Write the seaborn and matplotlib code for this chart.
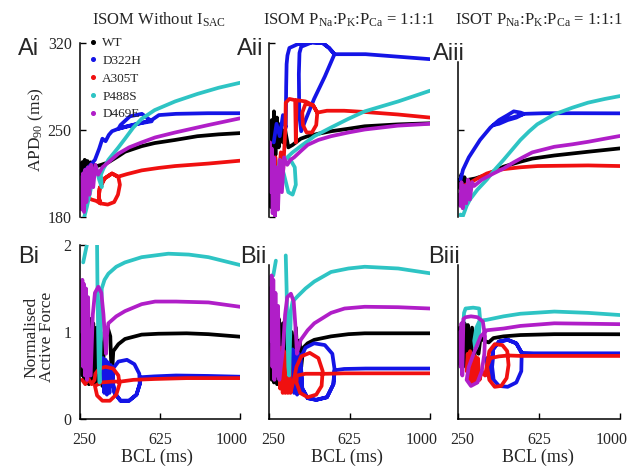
import numpy as np
import pandas as pd
import matplotlib
matplotlib.use("Agg")
import matplotlib.pyplot as plt
import matplotlib.transforms as mtransforms
from matplotlib.lines import Line2D
import seaborn as sns

sns.set_theme(style="white")
plt.rcParams["font.family"] = ["Liberation Serif", "DejaVu Serif"]
plt.rcParams["mathtext.fontset"] = "custom"
plt.rcParams["mathtext.rm"] = "Liberation Serif"
plt.rcParams["mathtext.it"] = "Liberation Serif:italic"

W, H = 634, 466

# ── DATA (BCL in ms, APD90 in ms / normalised force); None = gap ────────────
mutants = ["WT", "D322H", "A305T", "P488S", "D469E"]
colours = ["#000000", "#1414e6", "#f01010", "#2ec4c4", "#b01ec8"]
panel_titles = [r"ISOM Without I$_{\mathrm{SAC}}$",
                r"ISOM P$_{\mathrm{Na}}$:P$_{\mathrm{K}}$:P$_{\mathrm{Ca}}$ = 1:1:1",
                r"ISOT P$_{\mathrm{Na}}$:P$_{\mathrm{K}}$:P$_{\mathrm{Ca}}$ = 1:1:1"]
bcl_ticks = [250, 625, 1000]
apd_ticks = [180, 250, 320]
force_ticks = [0, 1, 2]

# APD90 - ISOM without I_SAC
ai_wt = [(255, 214), (260, 224), (266, 210), (272, 226), (278, 212), (285, 225), (292, 214),
         (300, 224), (308, 216), (318, 222), (330, 221), (350, 222), (383, 224), (430, 229),
         (461, 232.5), (539, 237), (600, 239.5), (696, 242), (800, 245), (900, 246.5), (1000, 247.5)]
ai_d322h = [(262, 212), (275, 218), (290, 220), (320, 226), (340, 235), (355, 243), (370, 241),
            (385, 246), (400, 249), (430, 251), (470, 253), (520, 255), (586, 257), (540, 263),
            (484, 261), (440, 254), (430, 251), (500, 254), (586, 258), (620, 262), (700, 263),
            (850, 263.5), (1000, 263.5)]
ai_a305t = [(258, 199), (280, 196), (305, 194), (325, 193), (345, 191), (380, 190), (410, 192),
            (428, 198), (437, 206), (430, 212), (400, 215), (365, 211), (342, 203), (338, 196),
            (345, 191), (338, 196), (342, 203), (365, 211), (400, 215), (430, 212.5), (470, 214.5),
            (539, 217.5), (620, 219.5), (696, 221), (852, 223), (1000, 225.3)]
ai_p488s = [(270, 180), (282, 188), (295, 198), (310, 210), (325, 220), (340, 210), (352, 204),
            (348, 214), (360, 219), (383, 226), (430, 236), (461, 243), (500, 252), (539, 259),
            (600, 266), (696, 273), (800, 279), (900, 284), (1000, 288)]
ai_d469e = [(255, 212), (259, 186), (264, 215), (269, 184), (274, 218), (280, 192), (287, 220),
            (294, 198), (302, 222), (312, 204), (322, 222), (335, 214), (355, 220), (383, 224),
            (430, 231), (480, 236), (539, 240), (602, 244), (696, 248), (852, 254), (1000, 259.4)]

# APD90 - ISOM P_Na:P_K:P_Ca = 1:1:1
aii_wt = [(255, 235), (259, 188), (263, 258), (268, 192), (273, 265), (280, 230), (287, 260),
          (295, 236), (305, 255), (315, 240), (325, 250), (340, 236), (360, 238), (398, 243),
          (430, 245), (480, 247), (539, 249), (620, 251), (696, 253), (850, 254.5), (1000, 255.4)]
aii_d322h = [(272, 240), (285, 255), (300, 245), (315, 262), (328, 252), (330, 285), (332, 303),
             (336, 310), (345, 316), (383, 319), (450, 320.5), (500, 320), (530, 316), (555, 311),
             (510, 293), (460, 275), (420, 258), (400, 249), (391, 262), (389, 295), (392, 312),
             (400, 317), (450, 320.5), (500, 320), (530, 316), (555, 311), (620, 311), (700, 311),
             (850, 309), (1000, 307)]
aii_a305t = [(265, 215), (280, 228), (292, 205), (305, 232), (316, 218), (326, 250), (328, 272),
             (345, 275), (372, 274), (375, 240), (378, 274), (420, 273), (455, 270), (475, 264),
             (470, 254), (450, 248), (425, 248), (408, 254), (405, 264), (420, 271), (455, 270),
             (475, 264), (520, 265.5), (600, 265.5), (696, 264.5), (850, 262.5), (1000, 260)]
aii_p488s = [(285, 205), (300, 226), (320, 214), (340, 200), (360, 198), (375, 206), (370, 220),
             (350, 226), (335, 228), (360, 232), (398, 237), (461, 245), (539, 252), (620, 259),
             (696, 265), (852, 273), (1000, 281.6)]
aii_d469e = [(255, 240), (259, 200), (263, 235), (267, 183), (272, 228), (278, 180), (285, 220),
             (292, 186), (300, 226), (310, 200), (320, 228), (335, 222), (350, 226), (367, 228),
             (398, 233), (430, 238), (480, 242), (539, 245), (620, 248), (696, 250.4),
             (850, 253.5), (1000, 255)]

# APD90 - ISOT P_Na:P_K:P_Ca = 1:1:1
aiii_wt = [(255, 210), (260, 203), (265, 214), (272, 205), (280, 212), (290, 203), (300, 210),
           (330, 211), (383, 214), (430, 218), (461, 220.5), (539, 224.5), (594, 227),
           (696, 229.5), (852, 232.5), (1000, 235.2)]
aiii_d322h = [(262, 210), (273, 218), (300, 228), (352, 242), (400, 252), (440, 258), (480, 262),
              (508, 265), (540, 264), (555, 263), (520, 260), (480, 258), (440, 255), (414, 254),
              (440, 256), (480, 259), (520, 261), (555, 263), (650, 263.5), (800, 263.5),
              (1000, 263.4)]
aiii_a305t = [(265, 203), (273, 205), (300, 207), (340, 211), (383, 215), (430, 217.5),
              (461, 218.5), (539, 220), (620, 221), (852, 221.5), (1000, 221)]
aiii_p488s = [(262, 182), (266, 179), (273, 181), (290, 189), (305, 194), (340, 202), (383, 210),
              (420, 218), (461, 226), (500, 234), (539, 242), (580, 249), (617, 254.6),
              (696, 262.6), (780, 268), (852, 272), (930, 275), (1000, 277.3)]
aiii_d469e = [(255, 198), (260, 189), (266, 208), (272, 187), (280, 205), (288, 191), (296, 210),
              (305, 194), (315, 208), (325, 205), (360, 210), (414, 215), (461, 219), (508, 224),
              (550, 228), (594, 232), (696, 236.5), (780, 238.5), (852, 240.5), (930, 243),
              (1000, 245.2)]

# Normalised active force - ISOM without I_SAC
bi_wt = [(258, 1.2), (262, 0.5), (266, 1.3), (270, 0.45), (275, 1.25), (280, 0.42), (286, 1.2),
         (292, 0.4), (298, 1.15), (305, 0.42), (312, 1.1), (320, 0.4), (328, 1.05), (336, 0.4),
         (345, 0.9), (355, 0.38), (365, 1.0), (380, 1.05), (392, 0.95), (398, 0.5), (402, 0.6),
         (406, 0.78), (430, 0.86), (461, 0.92), (539, 0.97), (617, 0.98), (750, 0.985),
         (852, 0.975), (1000, 0.946)]
bi_d322h = [(352, 0.45), (358, 0.7), (364, 0.3), (370, 0.68), (376, 0.28), (382, 0.65),
            (388, 0.3), (394, 0.62), (400, 0.4), (405, 0.58), (430, 0.66), (470, 0.68),
            (505, 0.63), (528, 0.52), (530, 0.4), (515, 0.28), (480, 0.21), (440, 0.21),
            (412, 0.3), (402, 0.45), (405, 0.58), (402, 0.45), (412, 0.3), (440, 0.21),
            (480, 0.21), (515, 0.28), (530, 0.4), (535, 0.48), (600, 0.49), (700, 0.5),
            (850, 0.495), (1000, 0.486)]
bi_a305t = [(260, 0.45), (275, 0.4), (290, 0.46), (305, 0.4), (318, 0.45), (322, 0.52),
            (340, 0.58), (370, 0.6), (405, 0.58), (430, 0.5), (435, 0.4), (420, 0.28),
            (390, 0.21), (355, 0.21), (330, 0.27), (320, 0.38), (350, 0.42), (400, 0.43),
            (440, 0.43), (500, 0.45), (600, 0.46), (750, 0.47), (1000, 0.47)]
bi_p488s = [(265, 1.8), (282, 2.0), None,
            (330, 2.0), (332, 1.5), (335, 1.0), (338, 0.6), (342, 0.42), (346, 0.8), (349, 1.2),
            (352, 1.5), (365, 1.6), (383, 1.67), (420, 1.75), (461, 1.8), (539, 1.86),
            (664, 1.9), (760, 1.89), (852, 1.86), (1000, 1.77)]
bi_d469e = [(255, 1.45), (258, 1.0), (261, 1.6), (265, 0.6), (269, 1.55), (273, 0.5), (278, 1.5),
            (283, 0.45), (288, 1.4), (293, 0.5), (300, 0.5), (310, 1.2), (320, 1.45), (336, 1.52),
            (350, 1.45), (360, 1.2), (368, 0.9), (372, 0.75), (376, 0.95), (383, 1.1), (420, 1.18),
            (461, 1.24), (539, 1.32), (602, 1.35), (700, 1.35), (852, 1.34), (1000, 1.29)]

# Normalised active force - ISOM P_Na:P_K:P_Ca = 1:1:1
bii_wt = [(258, 1.2), (263, 0.45), (268, 1.25), (273, 0.42), (280, 1.2), (288, 0.4), (296, 1.15),
          (305, 0.42), (315, 1.1), (325, 0.42), (335, 1.05), (345, 0.45), (355, 1.0), (365, 0.5),
          (375, 1.05), (385, 0.55), (392, 0.9), (400, 0.6), (410, 0.82), (430, 0.87), (461, 0.91),
          (539, 0.95), (620, 0.975), (696, 0.985), (852, 0.985), (1000, 0.985)]
bii_d322h = [(352, 0.45), (360, 0.8), (367, 0.3), (374, 0.78), (381, 0.28), (388, 0.75),
             (395, 0.3), (400, 0.55), (398, 0.7), (420, 0.82), (460, 0.87), (510, 0.85),
             (545, 0.75), (555, 0.58), (550, 0.4), (520, 0.25), (470, 0.22), (430, 0.24),
             (405, 0.35), (400, 0.55), (405, 0.35), (430, 0.24), (470, 0.22), (520, 0.25),
             (550, 0.4), (556, 0.56), (600, 0.575), (700, 0.58), (850, 0.58), (1000, 0.58)]
bii_a305t = [(290, 0.5), (296, 0.8), (302, 0.35), (308, 0.82), (314, 0.3), (320, 0.78),
             (326, 0.3), (332, 0.75), (338, 0.3), (344, 0.7), (350, 0.3), (360, 0.4), (370, 0.5),
             (378, 0.6), (400, 0.72), (440, 0.76), (480, 0.7), (500, 0.55), (495, 0.38),
             (470, 0.28), (430, 0.25), (395, 0.3), (378, 0.42), (380, 0.5), (420, 0.52),
             (480, 0.52), (520, 0.52), (600, 0.525), (800, 0.525), (1000, 0.525)]
bii_p488s = [(270, 1.65), (282, 1.82), None,
             (328, 1.88), (332, 1.5), (336, 1.0), (340, 0.6), (344, 0.5), (348, 0.9), (352, 1.25),
             (360, 1.35), (383, 1.41), (420, 1.5), (461, 1.58), (539, 1.69), (620, 1.73),
             (696, 1.75), (852, 1.73), (1000, 1.675)]
bii_d469e = [(255, 1.5), (259, 0.9), (262, 1.65), (266, 0.6), (270, 1.6), (275, 0.45), (280, 1.45),
             (286, 0.5), (292, 1.3), (298, 0.45), (305, 0.6), (315, 0.8), (325, 1.2), (335, 1.4),
             (352, 1.44), (365, 1.35), (375, 1.0), (380, 0.75), (385, 0.8), (398, 0.91),
             (430, 1.02), (461, 1.1), (539, 1.22), (602, 1.27), (696, 1.29), (852, 1.285),
             (1000, 1.27)]

# Normalised active force - ISOT P_Na:P_K:P_Ca = 1:1:1
biii_wt = [(258, 1.05), (262, 0.62), (268, 1.08), (274, 0.6), (280, 1.1), (288, 0.62),
           (296, 1.08), (305, 0.65), (315, 1.05), (325, 0.7), (335, 1.0), (345, 0.75),
           (355, 0.95), (370, 0.9), (392, 0.88), (414, 0.93), (461, 0.95), (539, 0.965),
           (696, 0.975), (852, 0.975), (1000, 0.974)]
biii_d322h = [(383, 0.7), (388, 0.5), (393, 0.72), (398, 0.45), (403, 0.7), (408, 0.6),
              (412, 0.8), (440, 0.89), (480, 0.91), (520, 0.87), (545, 0.76), (543, 0.55),
              (520, 0.42), (480, 0.37), (440, 0.38), (415, 0.45), (408, 0.6), (412, 0.8),
              (440, 0.89), (480, 0.91), (520, 0.87), (545, 0.76), (600, 0.755), (700, 0.755),
              (850, 0.755), (1000, 0.755)]
biii_a305t = [(290, 0.55), (295, 0.75), (300, 0.45), (306, 0.78), (312, 0.42), (318, 0.75),
              (324, 0.42), (330, 0.72), (336, 0.42), (342, 0.7), (350, 0.45), (360, 0.55),
              (375, 0.5), (383, 0.6), (395, 0.78), (420, 0.86), (455, 0.85), (478, 0.78),
              (484, 0.62), (475, 0.47), (450, 0.38), (420, 0.37), (395, 0.45), (385, 0.6),
              (400, 0.7), (440, 0.72), (484, 0.73), (540, 0.725), (700, 0.725), (1000, 0.725)]
biii_p488s = [(275, 1.1), (278, 1.22), (285, 1.27), (320, 1.28), (348, 1.27), (352, 1.15),
              (348, 1.0), (340, 0.85), (330, 0.8), (325, 0.9), (335, 1.05), (350, 1.13),
              (383, 1.14), (461, 1.18), (539, 1.21), (696, 1.235), (852, 1.22), (1000, 1.195)]
biii_d469e = [(258, 1.0), (262, 0.6), (266, 1.1), (270, 0.5), (275, 1.15), (285, 1.17),
              (310, 1.18), (340, 1.17), (365, 1.12), (375, 0.95), (372, 0.75), (360, 0.55),
              (340, 0.42), (310, 0.38), (290, 0.45), (300, 0.6), (330, 0.8), (355, 0.95),
              (383, 1.02), (461, 1.04), (539, 1.07), (696, 1.1), (852, 1.095), (1000, 1.09)]

apd_curves = [[ai_wt, ai_d322h, ai_a305t, ai_p488s, ai_d469e],
              [aii_wt, aii_d322h, aii_a305t, aii_p488s, aii_d469e],
              [aiii_wt, aiii_d322h, aiii_a305t, aiii_p488s, aiii_d469e]]
force_curves = [[bi_wt, bi_d322h, bi_a305t, bi_p488s, bi_d469e],
                [bii_wt, bii_d322h, bii_a305t, bii_p488s, bii_d469e],
                [biii_wt, biii_d322h, biii_a305t, biii_p488s, biii_d469e]]


def fx(px):
    return px / W


def fy(py):
    return 1 - py / H


def draw_curve(ax, pts, colour):
    segs, cur = [], []
    for p in pts:
        if p is None:
            segs.append(cur)
            cur = []
        else:
            cur.append(p)
    segs.append(cur)
    for seg in segs:
        df = pd.DataFrame(seg, columns=["bcl", "val"])
        sns.lineplot(data=df, x="bcl", y="val", sort=False, estimator=None,
                     color=colour, lw=2.7, ax=ax, legend=False)


def shift_label(lbl, dx):
    lbl.set_transform(lbl.get_transform() +
                      mtransforms.ScaledTranslation(dx / 100, 0, fig.dpi_scale_trans))


fig = plt.figure(figsize=(W / 100, H / 100), dpi=100)
fig.patch.set_facecolor("white")

col_left = [80, 269, 458]
col_w = [160, 161, 162]

for i in range(3):
    # ── top row: APD90 ──
    ax = fig.add_axes([fx(col_left[i]), fy(217), col_w[i] / W, 174 / H])
    for curve, c in zip(apd_curves[i], colours):
        draw_curve(ax, curve, c)
    ax.set_xlim(250, 1000)
    ax.set_ylim(180, 320)
    ax.set_xlabel("")
    ax.set_ylabel("")
    for s in ["top", "right", "bottom"]:
        ax.spines[s].set_visible(False)
    ax.spines["left"].set_color("black")
    ax.spines["left"].set_linewidth(1.1)
    ax.set_xticks([])
    ax.tick_params(axis="y", direction="in", length=4, width=1, color="black",
                   left=True, labelsize=11.5, pad=6)
    ax.patch.set_alpha(0)
    if i == 0:
        ax.set_yticks(apd_ticks)
        leg = [Line2D([], [], marker="o", ls="none", color=c, ms=2.6) for c in colours]
        ax.legend(leg, mutants, loc="upper left", bbox_to_anchor=(fx(89), fy(37)),
                  bbox_transform=fig.transFigure, frameon=False, fontsize=9.5,
                  handlelength=0.6, handletextpad=0.4, labelspacing=0.42,
                  borderpad=0, borderaxespad=0)
    elif i == 1:
        ax.set_yticks([180, 320])
        ax.set_yticklabels([])
    else:
        ax.set_yticks([250])
        ax.set_yticklabels([])
        ax.spines["left"].set_bounds(180, 305)

    # ── bottom row: normalised active force ──
    ax = fig.add_axes([fx(col_left[i]), fy(419), col_w[i] / W, 174 / H])
    for curve, c in zip(force_curves[i], colours):
        draw_curve(ax, curve, c)
    ax.set_xlim(250, 1000)
    ax.set_ylim(0, 2)
    ax.set_xlabel("")
    ax.set_ylabel("")
    for s in ["top", "right"]:
        ax.spines[s].set_visible(False)
    for s in ["left", "bottom"]:
        ax.spines[s].set_color("black")
        ax.spines[s].set_linewidth(1.1)
    ax.set_xticks(bcl_ticks)
    ax.tick_params(axis="y", direction="in", length=4, width=1, color="black",
                   left=True, labelsize=11.5, pad=6)
    ax.tick_params(axis="x", direction="in", length=4, width=1, color="black",
                   bottom=True, labelsize=11.5, pad=9)
    ax.patch.set_alpha(0)
    if i == 0:
        ax.set_yticks(force_ticks)
    else:
        ax.set_yticks([])
        ax.spines["left"].set_bounds(0, 1.77)
    labels = ax.get_xticklabels()
    shift_label(labels[0], 4)
    shift_label(labels[-1], -8)

    fig.text(fx(col_left[i] + col_w[i] / 2 - 3 + (i == 2) * 2), fy(457), "BCL (ms)",
             ha="center", va="center", fontsize=13)

# column titles
for x, t in zip([159, 349, 539], panel_titles):
    fig.text(fx(x), fy(20), t, ha="center", va="center", fontsize=12)

# axis labels
fig.text(fx(36), fy(130), r"APD$_{90}$ (ms)", rotation=90, ha="center", va="center",
         fontsize=12.5)
fig.text(fx(39), fy(337), "Normalised\nActive Force", rotation=90, ha="center",
         va="center", fontsize=12.5, linespacing=1.0)

# panel letters
sans = ["Liberation Sans", "DejaVu Sans"]
for x, y, t in [(18, 55, "Ai"), (237, 55, "Aii"), (433, 60, "Aiii"),
                (18, 263, "Bi"), (240, 263, "Bii"), (428, 263, "Biii")]:
    fig.text(fx(x), fy(y), t, ha="left", va="baseline", fontsize=17, family=sans)

fig.savefig("out.png", dpi=100, facecolor="white")
